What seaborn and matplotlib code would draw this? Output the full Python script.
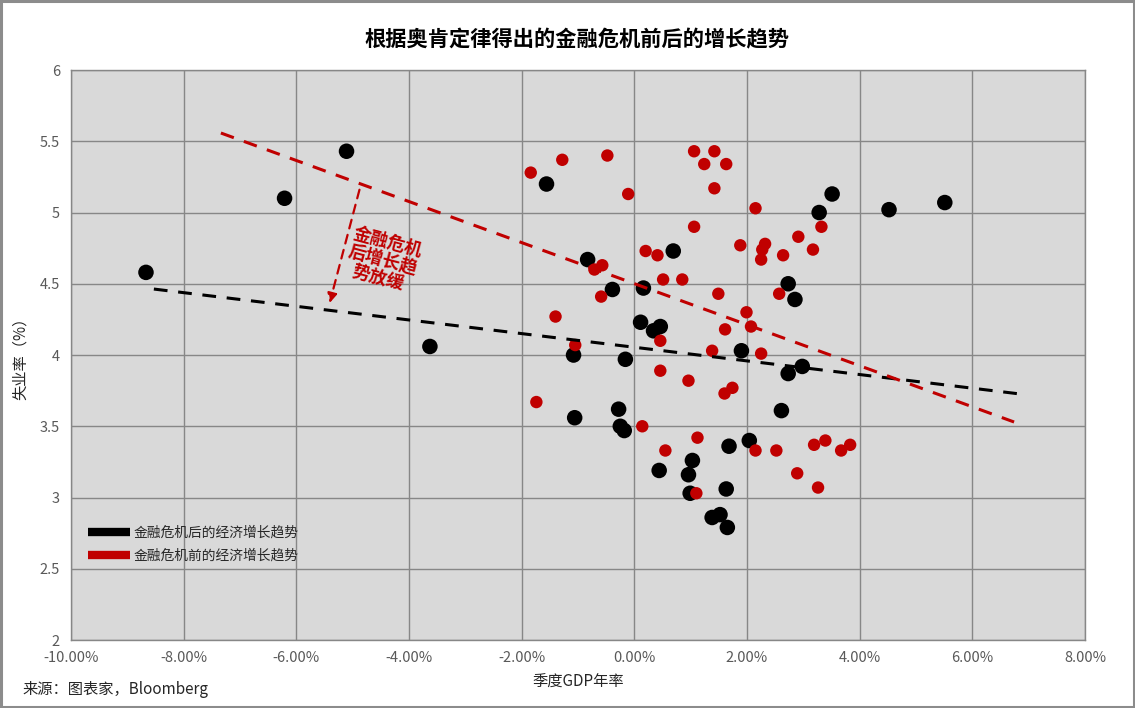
import matplotlib
matplotlib.use("Agg")
import matplotlib.pyplot as plt
from matplotlib.lines import Line2D
from matplotlib.patches import Rectangle
import seaborn as sns
import pandas as pd

# ---- data (GDP growth %, unemployment %) ----
post_gdp = [-8.67, -6.21, -5.11, -3.63, -1.56, -0.83, -0.39, 0.16, 0.11, 0.34, 0.46, 0.69,
            -1.08, -0.16, -1.06, -0.28, -0.25, -0.18, 0.44, 1.03, 0.96, 0.99, 1.68, 1.38,
            1.52, 1.65, 1.63, 1.90, 2.04, 2.61, 2.73, 2.85, 2.73, 2.98, 3.28, 3.51, 4.52, 5.51]
post_unemp = [4.58, 5.10, 5.43, 4.06, 5.20, 4.67, 4.46, 4.47, 4.23, 4.17, 4.20, 4.73,
              4.00, 3.97, 3.56, 3.62, 3.50, 3.47, 3.19, 3.26, 3.16, 3.03, 3.36, 2.86,
              2.88, 2.79, 3.06, 4.03, 3.40, 3.61, 4.50, 4.39, 3.87, 3.92, 5.00, 5.13, 5.02, 5.07]

pre_gdp = [-1.84, -1.28, -0.48, -0.11, 1.06, 1.42, 1.24, 1.63, 1.42, 1.06, 1.88, 0.20,
           0.41, -0.57, -0.71, 0.51, 0.85, -0.59, 1.49, -1.40, 1.99, 1.61, -1.05, 0.46,
           2.07, 1.38, 0.46, 0.96, 1.74, 1.60, -1.74, 0.14, 1.12, 0.55, 1.10, 2.15,
           2.32, 2.27, 2.25, 2.64, 2.91, 3.17, 3.32, 2.57, 2.25, 2.15, 2.52, 2.89,
           3.19, 3.39, 3.67, 3.83, 3.26]
pre_unemp = [5.28, 5.37, 5.40, 5.13, 5.43, 5.43, 5.34, 5.34, 5.17, 4.90, 4.77, 4.73,
             4.70, 4.63, 4.60, 4.53, 4.53, 4.41, 4.43, 4.27, 4.30, 4.18, 4.07, 4.10,
             4.20, 4.03, 3.89, 3.82, 3.77, 3.73, 3.67, 3.50, 3.42, 3.33, 3.03, 5.03,
             4.78, 4.74, 4.67, 4.70, 4.83, 4.74, 4.90, 4.43, 4.01, 3.33, 3.33, 3.17,
             3.37, 3.40, 3.33, 3.37, 3.07]

# trend line endpoints
post_trend_x = [-8.53, 6.86]
post_trend_y = [4.463, 3.726]
pre_trend_x = [-7.34, 6.74]
pre_trend_y = [5.558, 3.53]

x_ticks = [-10, -8, -6, -4, -2, 0, 2, 4, 6, 8]
y_ticks = [2, 2.5, 3, 3.5, 4, 4.5, 5, 5.5, 6]

title = "根据奥肯定律得出的金融危机前后的增长趋势"
label_post = "金融危机后的经济增长趋势"
label_pre = "金融危机前的经济增长趋势"
annot_text = "金融危机\n后增长趋\n势放缓"
source_text = "来源：图表家，Bloomberg"
xlabel = "季度GDP年率"
ylabel = "失业率（%）"

BLACK = "#000000"
RED = "#c00000"
GRID = "#878787"

sns.set_theme(style="white")
plt.rcParams["font.family"] = ["Noto Sans CJK SC", "DejaVu Sans"]

fig = plt.figure(figsize=(11.35, 7.08), dpi=100)
fig.patch.set_facecolor("white")
fig.patches.append(Rectangle((0.001, 0.002), 0.998, 0.996, transform=fig.transFigure,
                             fill=False, edgecolor="#8c8c8c", linewidth=2.2, zorder=0))

ax = fig.add_axes([0.0626, 0.0960, 0.8934, 0.8051])
ax.set_facecolor("#d9d9d9")

df_post = pd.DataFrame({"gdp": post_gdp, "u": post_unemp})
df_pre = pd.DataFrame({"gdp": pre_gdp, "u": pre_unemp})

sns.scatterplot(data=df_post, x="gdp", y="u", ax=ax, color=BLACK, s=125,
                edgecolor="none", zorder=3, legend=False)
sns.scatterplot(data=df_pre, x="gdp", y="u", ax=ax, color=RED, s=80,
                edgecolor="none", zorder=4, legend=False)

sns.lineplot(x=post_trend_x, y=post_trend_y, ax=ax, color=BLACK, linewidth=2.2,
             linestyle=(0, (4.5, 3.5)), zorder=5)
sns.lineplot(x=pre_trend_x, y=pre_trend_y, ax=ax, color=RED, linewidth=2.2,
             linestyle=(0, (4.5, 3.5)), zorder=5)

ax.set_xlim(-10, 8)
ax.set_ylim(2, 6)
ax.set_xticks(x_ticks)
ax.set_yticks(y_ticks)
ax.set_xticklabels([f"{v:.2f}%" for v in x_ticks])
ax.set_yticklabels([f"{v:g}" for v in y_ticks])
ax.tick_params(axis="both", colors="#595959", labelsize=10.5, length=0, pad=8)
ax.grid(True, color=GRID, linewidth=1)
ax.set_axisbelow(True)
for sp in ax.spines.values():
    sp.set_color(GRID)
    sp.set_linewidth(1)

ax.set_xlabel(xlabel, fontsize=11, color="#262626", labelpad=6)
ax.set_ylabel(ylabel, fontsize=11, color="#262626", labelpad=8)

fig.text(0.508, 0.944, title, ha="center", va="center", fontsize=15.3,
         fontweight="bold", color="#000000")
fig.text(0.020, 0.026, source_text, ha="left", va="center", fontsize=11, color="#262626")

# annotation
ax.annotate("", xy=(-5.41, 4.365), xytext=(-4.88, 5.16),
            arrowprops=dict(arrowstyle="-|>", color=RED, lw=1.6, linestyle=(0, (4, 3)),
                            mutation_scale=14, shrinkA=0, shrinkB=0), zorder=6)
ax.text(-4.47, 4.665, annot_text, color=RED, fontsize=12.8, fontweight="bold",
        rotation=-15, ha="center", va="center", linespacing=1.05, zorder=6,
        rotation_mode="anchor")

handles = [Line2D([0], [0], color=BLACK, lw=6, solid_capstyle="butt"),
           Line2D([0], [0], color=RED, lw=6, solid_capstyle="butt")]
ax.legend(handles, [label_post, label_pre], loc="upper left",
          bbox_to_anchor=(0.005, 0.222), frameon=False, fontsize=9.9,
          handlelength=3.0, handletextpad=0.3, labelspacing=0.62,
          labelcolor="#262626")

fig.savefig("out.png", dpi=100, facecolor="white")
